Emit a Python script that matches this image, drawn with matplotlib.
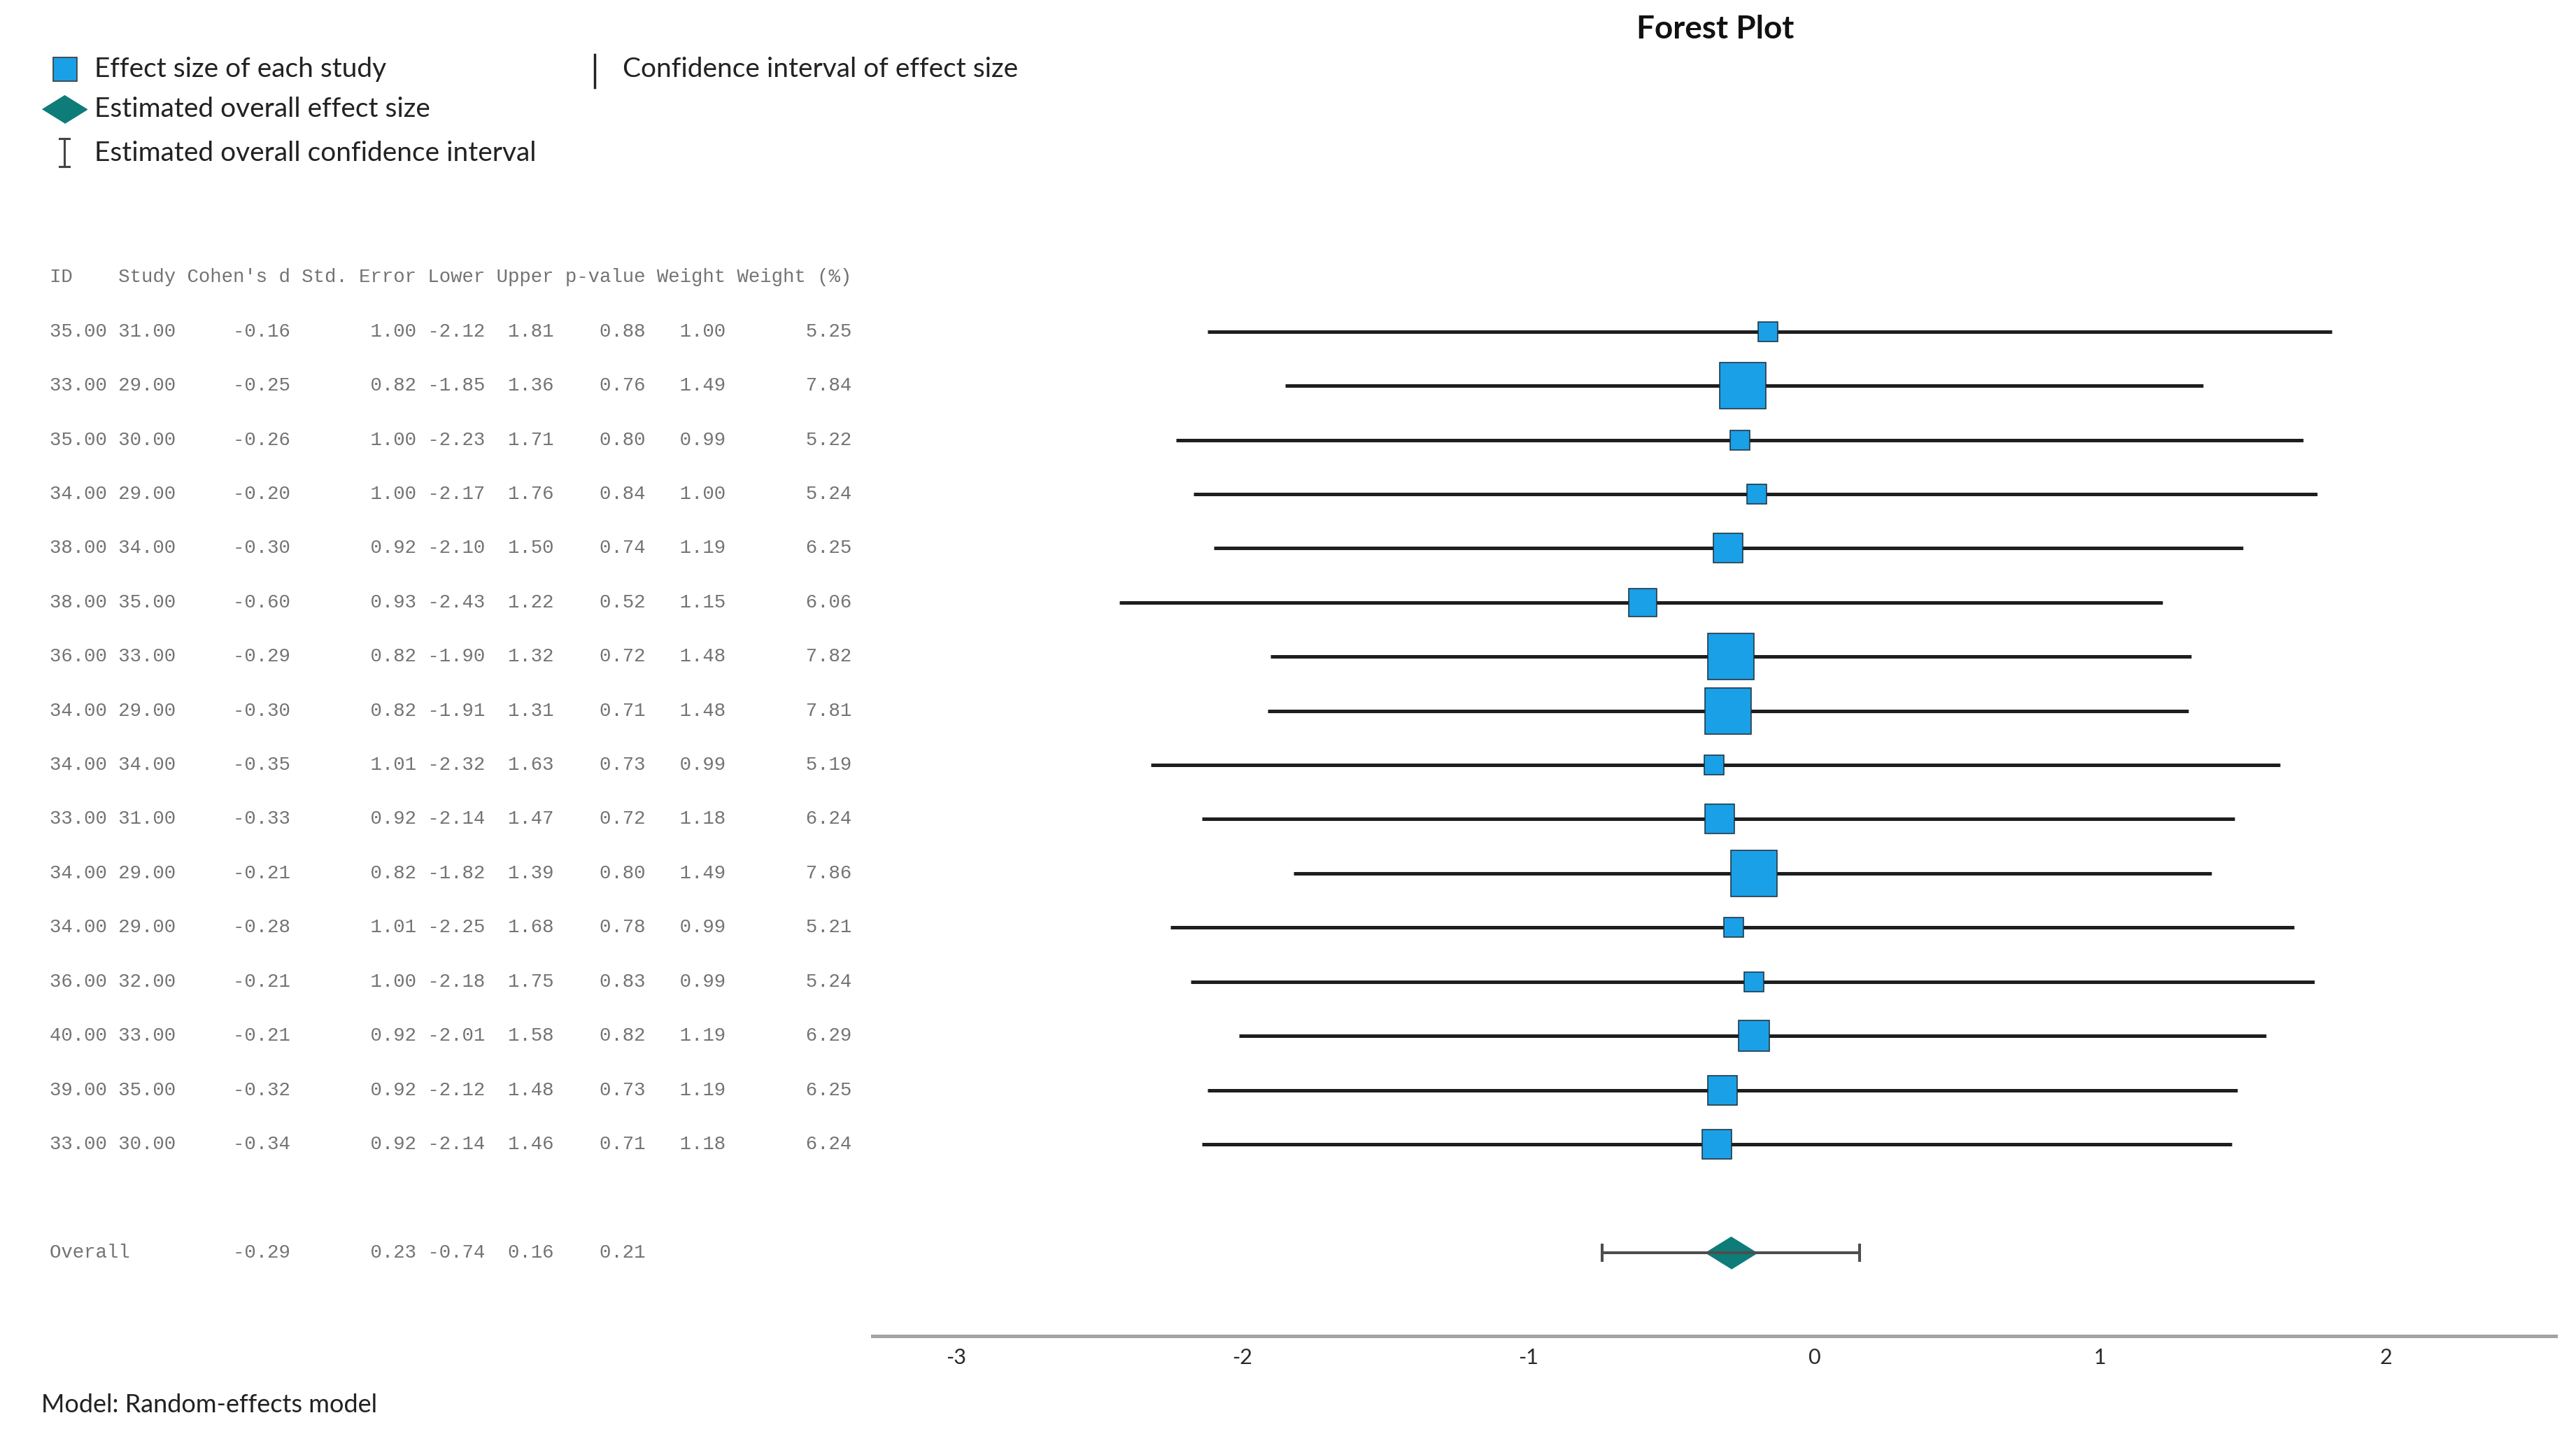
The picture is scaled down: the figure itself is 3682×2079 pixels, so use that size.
import numpy as np
import matplotlib
matplotlib.use('Agg')
import matplotlib.pyplot as plt
from matplotlib.transforms import blended_transform_factory

plt.rcParams['axes.unicode_minus'] = False

W, H, DPI = 3682, 2079, 100

study_id   = [35, 33, 35, 34, 38, 38, 36, 34, 34, 33, 34, 34, 36, 40, 39, 33]
study_no   = [31, 29, 30, 29, 34, 35, 33, 29, 34, 31, 29, 29, 32, 33, 35, 30]
cohen_d    = [-0.16, -0.25, -0.26, -0.20, -0.30, -0.60, -0.29, -0.30,
              -0.35, -0.33, -0.21, -0.28, -0.21, -0.21, -0.32, -0.34]
std_err    = [1.00, 0.82, 1.00, 1.00, 0.92, 0.93, 0.82, 0.82,
              1.01, 0.92, 0.82, 1.01, 1.00, 0.92, 0.92, 0.92]
lower      = [-2.12, -1.85, -2.23, -2.17, -2.10, -2.43, -1.90, -1.91,
              -2.32, -2.14, -1.82, -2.25, -2.18, -2.01, -2.12, -2.14]
upper      = [1.81, 1.36, 1.71, 1.76, 1.50, 1.22, 1.32, 1.31,
              1.63, 1.47, 1.39, 1.68, 1.75, 1.58, 1.48, 1.46]
p_value    = [0.88, 0.76, 0.80, 0.84, 0.74, 0.52, 0.72, 0.71,
              0.73, 0.72, 0.80, 0.78, 0.83, 0.82, 0.73, 0.71]
weight     = [1.00, 1.49, 0.99, 1.00, 1.19, 1.15, 1.48, 1.48,
              0.99, 1.18, 1.49, 0.99, 0.99, 1.19, 1.19, 1.18]
weight_pct = [5.25, 7.84, 5.22, 5.24, 6.25, 6.06, 7.82, 7.81,
              5.19, 6.24, 7.86, 5.21, 5.24, 6.29, 6.25, 6.24]

overall = [-0.29, 0.23, -0.74, 0.16, 0.21]   # d, se, lower, upper, p
x_ticks = [-3, -2, -1, 0, 1, 2]

# ── colours ──
SQ_FACE, SQ_EDGE = '#1AA0E6', '#1d2d3a'
CI_COL = '#1e1e1e'
DIA_COL = '#0E7C78'
TAB_COL = '#737373'
AX_COL = '#a3a3a3'

fig = plt.figure(figsize=(W / DPI, H / DPI), dpi=DPI)
bg = fig.add_axes([0, 0, 1, 1])
bg.set_xlim(0, W); bg.set_ylim(H, 0); bg.axis('off')

def px_rect(x0, y0, x1, y1):
    return [x0 / W, 1 - y1 / H, (x1 - x0) / W, (y1 - y0) / H]

# plot area: rows 0..15, overall at 17, header at -1
ax = fig.add_axes(px_rect(1247, 360, 3653, 1909))
ax.set_facecolor('none')
ax.set_xlim(-3.293, 2.594)
ax.set_ylim(18.54, -1.47)

ys = np.arange(len(cohen_d))
ax.hlines(ys, lower, upper, color=CI_COL, lw=3.6, zorder=2)
sizes = (28 + 14.67 * (np.array(weight_pct) - 5.25)) * 0.72
for y, d, s in zip(ys, cohen_d, sizes):
    ax.plot(d, y, marker='s', ms=s, mfc=SQ_FACE, mec=SQ_EDGE, mew=1.1,
            ls='none', zorder=3)

diamond = [(-1, 0), (0, 0.62), (1, 0), (0, -0.62)]
oy = 17
ax.plot(overall[0], oy, marker=diamond, ms=53, mfc=DIA_COL, mec=DIA_COL,
        ls='none', zorder=3)
ax.errorbar(overall[0], oy, xerr=[[overall[0] - overall[2]], [overall[3] - overall[0]]],
            fmt='none', ecolor='#4d4d4d', elinewidth=2.9, capsize=9.7,
            capthick=2.9, zorder=4)

ax.set_xticks(x_ticks)
ax.set_yticks([])
ax.tick_params(axis='x', length=0, pad=12, labelsize=22, labelcolor='#2a2a2a')
for lab in ax.get_xticklabels():
    lab.set_fontfamily('Lato')
for s in ('top', 'left', 'right'):
    ax.spines[s].set_visible(False)
ax.spines['bottom'].set_color(AX_COL)
ax.spines['bottom'].set_linewidth(3.6)

# ── table (monospace, aligned with rows) ──
tr = blended_transform_factory(bg.transData, ax.transData)
mono = dict(family='Liberation Mono', size=19.7, color=TAB_COL,
            ha='left', va='center', transform=tr)
header = "ID    Study Cohen's d Std. Error Lower Upper p-value Weight Weight (%)"
ax.text(71, -1, header, **mono)
for i in range(len(cohen_d)):
    row = (f"{study_id[i]:<5.2f} {study_no[i]:<5.2f}{cohen_d[i]:>10.2f}"
           f"{std_err[i]:>11.2f}{lower[i]:>6.2f}{upper[i]:>6.2f}"
           f"{p_value[i]:>8.2f}{weight[i]:>7.2f}{weight_pct[i]:>11.2f}")
    ax.text(71, ys[i], row, **mono)
orow = (f"{'Overall':<11}{overall[0]:>10.2f}{overall[1]:>11.2f}"
        f"{overall[2]:>6.2f}{overall[3]:>6.2f}{overall[4]:>8.2f}")
ax.text(71, oy, orow, **mono)

# ── legend, title, footer ──
sans = dict(family='Lato', size=28, color='#222222', va='center', ha='left')
bg.plot(93, 99, marker='s', ms=24, mfc=SQ_FACE, mec='#3a3a3a', mew=1.2, ls='none')
bg.text(135, 99, 'Effect size of each study', **sans)
bg.plot(92, 156, marker=diamond, ms=46, mfc=DIA_COL, mec=DIA_COL, ls='none')
bg.text(135, 156, 'Estimated overall effect size', **sans)
bg.plot([92, 92], [198, 238], color='#444444', lw=2.2)
bg.plot([85, 99], [198, 198], color='#444444', lw=2.2)
bg.plot([85, 99], [238, 238], color='#444444', lw=2.2)
bg.text(135, 219, 'Estimated overall confidence interval', **sans)
bg.plot([850, 850], [78, 125], color='#222222', lw=2.5)
bg.text(890, 99, 'Confidence interval of effect size', **sans)

bg.text(2452, 42, 'Forest Plot', family='Lato', weight='bold', size=33,
        color='#111111', ha='center', va='center')
bg.text(59, 2008, 'Model: Random-effects model', family='Lato', size=26,
        color='#222222', va='center', ha='left')

fig.savefig('out.png', dpi=DPI, facecolor='white')
